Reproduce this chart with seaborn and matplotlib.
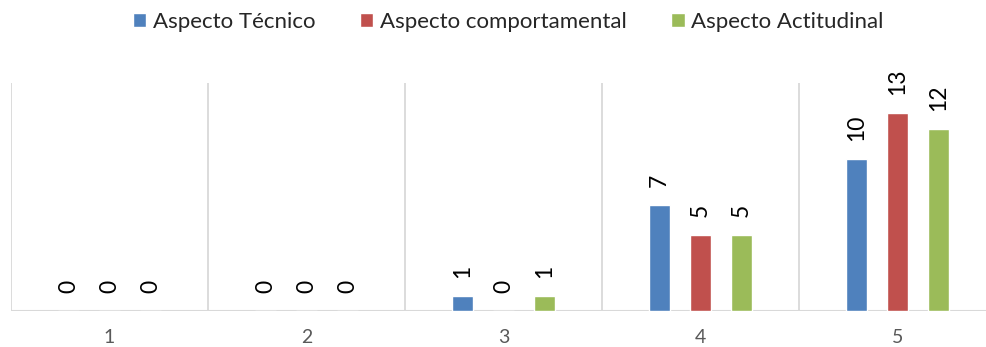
import pandas as pd
import matplotlib
matplotlib.use("Agg")
import matplotlib.pyplot as plt
import seaborn as sns

# datos
categorias = ["1", "2", "3", "4", "5"]
series = ["Aspecto Técnico", "Aspecto comportamental", "Aspecto Actitudinal"]
tecnico = [0, 0, 1, 7, 10]
comportamental = [0, 0, 0, 5, 13]
actitudinal = [0, 0, 1, 5, 12]
colores = ["#4F81BD", "#C0504D", "#9BBB59"]

df = pd.DataFrame({
    "categoria": categorias * 3,
    "serie": [series[0]] * 5 + [series[1]] * 5 + [series[2]] * 5,
    "valor": tecnico + comportamental + actitudinal,
})

sns.set_theme(style="white")
plt.rcParams["font.family"] = ["Lato", "DejaVu Sans"]

fig = plt.figure(figsize=(9.87, 3.47), dpi=100)
ax = fig.add_axes([0.0111, 0.1037, 0.998, 0.657])

sns.barplot(data=df, x="categoria", y="valor", hue="serie", order=categorias,
            hue_order=series, palette=colores, width=0.625, gap=0.48,
            saturation=1, ax=ax)

# etiquetas de datos rotadas
for cont in ax.containers:
    ax.bar_label(cont, padding=13, rotation=90, fontsize=16.5, color="black")

ax.set_ylim(0, 15)
ax.set_xlim(-0.5, 4.5)
ax.set_xlabel("")
ax.set_ylabel("")
ax.set_yticks([])
sns.despine(ax=ax, left=True, right=True, top=True, bottom=True)

# separadores verticales y eje base
for x in [-0.5, 0.5, 1.5, 2.5, 3.5, 4.5]:
    ax.axvline(x, color="#D9D9D9", lw=1.3, zorder=0)
ax.axhline(0, color="#D9D9D9", lw=1.5, zorder=0.5)

ax.tick_params(axis="x", length=0, pad=13, labelsize=14, labelcolor="#595959")

handles, labels = ax.get_legend_handles_labels()
ax.legend_.remove()
fig.legend(handles, labels, loc="center", bbox_to_anchor=(0.515, 0.937),
           ncol=3, frameon=False, fontsize=16, handlelength=0.6,
           handleheight=0.6, handletextpad=0.3, columnspacing=2.0)

fig.savefig("out.png", dpi=100)
plt.close(fig)
